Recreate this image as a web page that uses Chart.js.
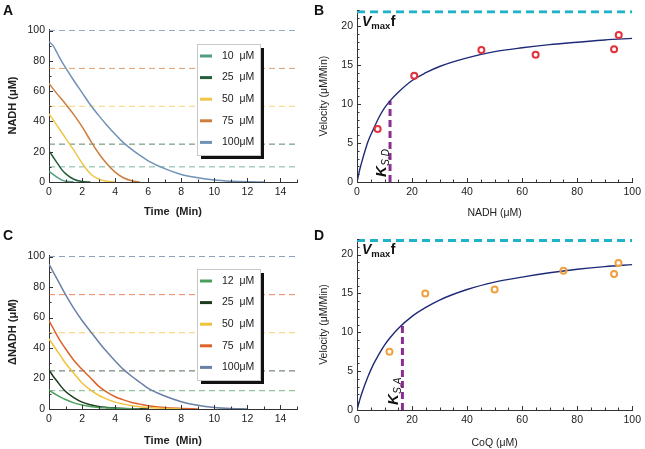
<!DOCTYPE html>
<html>
<head>
<meta charset="utf-8">
<script src="https://cdn.jsdelivr.net/npm/chart.js@4.4.0/dist/chart.umd.min.js"></script>
<style>
  body { margin: 0; background: #fff; width: 645px; height: 449px; position: relative; overflow: hidden; }
  canvas { position: absolute; }
  .lbl { position: absolute; font: bold 14px "Liberation Sans", Arial, sans-serif; line-height: 14px; color: #111; }
</style>
</head>
<body>
<canvas id="cA" width="320" height="225" style="left:0;top:0"></canvas>
<canvas id="cB" width="329" height="225" style="left:316px;top:0"></canvas>
<canvas id="cC" width="320" height="224" style="left:0;top:225px"></canvas>
<canvas id="cD" width="329" height="224" style="left:316px;top:225px"></canvas>
<div class="lbl" style="left:3px;top:3px">A</div>
<div class="lbl" style="left:314px;top:3px">B</div>
<div class="lbl" style="left:3px;top:228px">C</div>
<div class="lbl" style="left:314px;top:228px">D</div>
<script>
// ---- data ----
// time points (min) for the progress curves, panels A and C
const timeGrid = [0, 0.25, 0.5, 0.75, 1, 1.5, 2, 2.5, 3, 3.5, 4, 4.5, 5, 5.5, 6, 7, 8, 9, 10, 11, 12, 13];

// panel A: NADH (uM) vs time
const labelsA = ['10', '25', '50', '75', '100'];
const levelsA = [10, 25, 50, 75, 100];
const nadhA10 = [7, 5, 3, 1.4, 0.5, 0, null, null, null, null, null, null, null, null, null, null, null, null, null, null, null, null];
const nadhA25 = [20.6, 16.5, 12.5, 8.5, 5.5, 1.8, 0.3, 0, null, null, null, null, null, null, null, null, null, null, null, null, null, null];
const nadhA50 = [45, 41, 37, 33, 29, 21, 12.5, 5.5, 2, 0.5, 0, null, null, null, null, null, null, null, null, null, null, null];
const nadhA75 = [65, 61.5, 58, 55, 51.5, 44.5, 36.5, 27.5, 19, 12, 6.5, 2.8, 0.8, 0, null, null, null, null, null, null, null, null];
const nadhA100 = [92.5, 90, 85, 80, 75.5, 67, 59, 51, 44, 37.5, 31.5, 26, 21.5, 17.5, 14, 8.8, 5, 2.8, 1.3, 0.5, 0.1, 0];

// panel C: delta NADH (uM) vs time
const labelsC = ['12', '25', '50', '75', '100'];
const levelsC = [12, 25, 50, 75, 100];
const nadhC12 = [12.5, 10.6, 9, 7.5, 6.2, 4, 2.6, 1.6, 1, 0.7, 0.4, 0.25, 0.1, 0, null, null, null, null, null, null, null, null];
const nadhC25 = [25.7, 21.5, 18, 14.5, 11.5, 7.5, 4.5, 2.8, 1.6, 1, 0.6, 0.35, 0.2, 0.1, 0, null, null, null, null, null, null, null];
const nadhC50 = [46, 42, 38, 34, 30, 23.5, 17, 12.5, 9, 6.5, 4.5, 3.2, 2.2, 1.5, 1, 0.4, 0, null, null, null, null, null];
const nadhC75 = [58, 53, 48, 43.5, 39.5, 32, 26, 20.5, 15, 11, 8, 6, 4.3, 3.2, 2.2, 1, 0.4, 0, null, null, null, null];
const nadhC100 = [95, 90, 85, 80, 75, 66, 58, 51, 44, 37.5, 31.5, 26, 21.5, 17.5, 13.5, 8.5, 4.8, 2.4, 1, 0.3, 0, null];

// panel B: velocity vs NADH
const fitX = [0, 1, 2, 4, 6, 8, 10, 12, 15, 20, 25, 30, 40, 50, 60, 70, 80, 90, 100];
const fitB = [0, 1.6, 2.9, 5.2, 6.8, 8.3, 9.5, 10.4, 11.5, 13.0, 14.0, 14.8, 15.9, 16.7, 17.2, 17.6, 17.9, 18.2, 18.4];
const obsNadh = [7.5, 20.8, 45.2, 64.9, 93.4, 95.1];
const obsVelB = [6.8, 13.6, 16.9, 16.3, 17.0, 18.85];
const ksB = 12, ksTopB = 10.4;

// panel D: velocity vs CoQ
const fitD = [0, 1.3, 2.4, 4.3, 5.9, 7.2, 8.35, 9.3, 10.5, 12.05, 13.2, 14.15, 15.5, 16.45, 17.1, 17.65, 18.1, 18.45, 18.7];
const obsCoq = [11.8, 24.8, 50, 75, 93.4, 95];
const obsVelD = [7.5, 15.0, 15.5, 17.9, 17.5, 18.9];
const ksD = 16.5, ksTopD = 11.0;

const vmaxF = 21.8;

// ---- styles ----
const colorsA = ['#4f9e80', '#245e3a', '#f0c64a', '#cd7d3e', '#6f92b6'];
const colorsC = ['#4a9f5c', '#1c3a1e', '#f0c23a', '#de622c', '#6a80a6'];
const FONT = '"Liberation Sans", Arial, sans-serif';

function hexA(hex, a) {
  const n = parseInt(hex.slice(1), 16);
  return `rgba(${n >> 16},${(n >> 8) & 255},${n & 255},${a})`;
}

// inward Mathematica-style ticks, custom legend box and annotations
const panelPlugin = {
  id: 'panel',
  afterDraw(chart, args, o) {
    const ctx = chart.ctx, a = chart.chartArea;
    const xs = chart.scales.x, ys = chart.scales.y;
    ctx.save();
    ctx.strokeStyle = '#333';
    ctx.lineWidth = 1;
    const nx = Math.round((xs.max - xs.min) / o.minorX);
    for (let i = 0; i <= nx; i++) {
      const v = xs.min + i * o.minorX;
      const major = Math.abs(v / o.majorX - Math.round(v / o.majorX)) < 1e-6;
      const px = Math.round(xs.getPixelForValue(v)) + 0.5;
      ctx.beginPath();
      ctx.moveTo(px, a.bottom);
      ctx.lineTo(px, a.bottom - (major ? 4 : 2.5));
      ctx.stroke();
    }
    const ny = Math.floor((ys.max - ys.min) / o.minorY + 1e-6);
    for (let i = 0; i <= ny; i++) {
      const v = ys.min + i * o.minorY;
      const major = Math.abs(v / o.majorY - Math.round(v / o.majorY)) < 1e-6;
      const py = Math.round(ys.getPixelForValue(v)) + 0.5;
      ctx.beginPath();
      ctx.moveTo(a.left, py);
      ctx.lineTo(a.left + (major ? 4 : 2.5), py);
      ctx.stroke();
    }

    if (o.legend) {
      const L = o.legend;
      ctx.fillStyle = '#111';
      ctx.fillRect(L.x + 4, L.y + 4, L.w, L.h);
      ctx.fillStyle = '#fff';
      ctx.fillRect(L.x, L.y, L.w, L.h);
      ctx.strokeStyle = '#c8c8c8';
      ctx.strokeRect(L.x + 0.5, L.y + 0.5, L.w, L.h);
      ctx.font = '10.5px ' + FONT;
      ctx.textBaseline = 'middle';
      ctx.textAlign = 'left';
      const numW = ctx.measureText('100').width;
      chart.data.datasets.filter(d => d.inLegend).forEach((d, i) => {
        const y = L.y + L.row0 + i * L.rowH;
        ctx.strokeStyle = d.borderColor;
        ctx.lineWidth = 3;
        ctx.beginPath();
        ctx.moveTo(L.x + 3, y);
        ctx.lineTo(L.x + 15, y);
        ctx.stroke();
        ctx.fillStyle = '#222';
        ctx.fillText(d.label, L.x + 25, y);
        ctx.fillText('\u03bcM', L.x + 25 + numW, y);
      });
    }

    if (o.vmax !== undefined) {
      const y0 = ys.getPixelForValue(o.vmax);
      let x = a.left + 5;
      const yb = y0 + o.vmaxGap;
      ctx.fillStyle = '#111';
      ctx.textBaseline = 'alphabetic';
      ctx.textAlign = 'left';
      ctx.font = 'italic bold 14px ' + FONT;
      ctx.fillText('V', x, yb);
      x += ctx.measureText('V').width;
      ctx.font = 'bold 9.5px ' + FONT;
      ctx.fillText('max', x, yb + 3);
      x += ctx.measureText('max').width + 0.5;
      ctx.font = 'bold 14px ' + FONT;
      ctx.fillText('f', x, yb);
    }

    if (o.ks !== undefined) {
      const px = xs.getPixelForValue(o.ks);
      const py = ys.getPixelForValue(0);
      ctx.translate(px - 4, py - 5);
      ctx.rotate(-Math.PI / 2);
      ctx.fillStyle = '#111';
      ctx.textBaseline = 'alphabetic';
      ctx.textAlign = 'left';
      ctx.font = 'italic bold 15px ' + FONT;
      ctx.fillText('K', 0, 0);
      const w = ctx.measureText('K').width;
      ctx.font = 'italic 10px ' + FONT;
      ctx.fillText(o.ksSub, w + 0.5, 3);
    }
    ctx.restore();
  }
};

function axis(min, max, step, title, bold, size, fit) {
  return {
    type: 'linear', min: min, max: max,
    ticks: { stepSize: step, includeBounds: false, padding: 4, color: '#222', font: { family: FONT, size: 10.5 } },
    grid: { display: false, drawTicks: false },
    border: { display: true, color: '#333', width: 1 },
    title: { display: true, text: title, color: '#222', padding: 0,
             font: { family: FONT, size: size, weight: bold ? 'bold' : 'normal' } },
    afterFit: fit
  };
}

function timePanel(id, labels, levels, series, colors, yTitle, pad, xH) {
  const datasets = [];
  series.forEach((s, i) => {
    datasets.push({
      label: labels[i], inLegend: true,
      data: timeGrid.map((t, k) => ({ x: t, y: s[k] })),
      borderColor: colors[i], borderWidth: 1.5, pointRadius: 0,
      cubicInterpolationMode: 'monotone', spanGaps: false
    });
  });
  levels.forEach((lv, i) => {
    datasets.push({
      label: '', data: [{ x: 0, y: lv }, { x: 15, y: lv }],
      borderColor: hexA(colors[i], 0.75), borderWidth: 1, borderDash: [6, 4], pointRadius: 0
    });
  });
  return new Chart(document.getElementById(id), {
    type: 'line',
    data: { datasets: datasets },
    options: {
      responsive: false, animation: false, events: [],
      layout: { padding: pad },
      plugins: {
        legend: { display: false }, tooltip: { enabled: false },
        panel: { minorX: 1, majorX: 2, minorY: 10, majorY: 20,
                 legend: { x: 197, y: 44, w: 63, h: 111, row0: 12, rowH: 21.6 } }
      },
      scales: {
        x: axis(0, 15, 2, 'Time  (Min)', true, 11, s => { s.height = xH; }),
        y: axis(0, 101, 20, yTitle, true, 11, s => { s.width = 43; })
      }
    },
    plugins: [panelPlugin]
  });
}

function ratePanel(id, fit, obsX, obsY, ptColor, ks, ksTop, ksSub, xTitle, pad, xH, gap) {
  return new Chart(document.getElementById(id), {
    type: 'line',
    data: {
      datasets: [
        { data: obsX.map((x, i) => ({ x: x, y: obsY[i] })), showLine: false,
          pointStyle: 'circle', pointRadius: 3, pointBorderWidth: 2,
          pointBorderColor: ptColor, pointBackgroundColor: 'rgba(255,255,255,0)' },
        { data: fitX.map((x, i) => ({ x: x, y: fit[i] })), borderColor: '#1e2a78',
          borderWidth: 1.4, pointRadius: 0, cubicInterpolationMode: 'monotone' },
        { data: [{ x: ks, y: 0 }, { x: ks, y: ksTop }], borderColor: '#8a2f92',
          borderWidth: 3, borderDash: [7, 4], pointRadius: 0 },
        { data: [{ x: 0, y: vmaxF }, { x: 100, y: vmaxF }], borderColor: '#1fb2c8',
          borderWidth: 3, borderDash: [8, 5], pointRadius: 0 }
      ]
    },
    options: {
      responsive: false, animation: false, events: [],
      layout: { padding: pad },
      plugins: {
        legend: { display: false }, tooltip: { enabled: false },
        panel: { minorX: 5, majorX: 20, minorY: 1, majorY: 5,
                 vmax: vmaxF, vmaxGap: gap, ks: ks, ksSub: ksSub }
      },
      scales: {
        x: axis(0, 100, 20, xTitle, false, 10.5, s => { s.height = xH; }),
        y: axis(0, 22, 5, 'Velocity (\u03bcM/Min)', false, 10.5, s => { s.width = 39; })
      }
    },
    plugins: [panelPlugin]
  });
}

timePanel('cA', labelsA, levelsA, [nadhA10, nadhA25, nadhA50, nadhA75, nadhA100], colorsA,
  'NADH (\u03bcM)', { left: 6, right: 23, top: 29, bottom: 6 }, 37);
timePanel('cC', labelsC, levelsC, [nadhC12, nadhC25, nadhC50, nadhC75, nadhC100], colorsC,
  '\u0394NADH (\u03bcM)', { left: 6, right: 23, top: 30, bottom: 1 }, 39);
ratePanel('cB', fitB, obsNadh, obsVelB, '#e2323a', ksB, ksTopB, 'S,D', 'NADH (\u03bcM)',
  { left: 2, right: 12, top: 10, bottom: 6 }, 37, 14);
ratePanel('cD', fitD, obsCoq, obsVelD, '#f0a040', ksD, ksTopD, 'S,A', 'CoQ (\u03bcM)',
  { left: 2, right: 12, top: 14, bottom: 0 }, 39, 13);
</script>
</body>
</html>
